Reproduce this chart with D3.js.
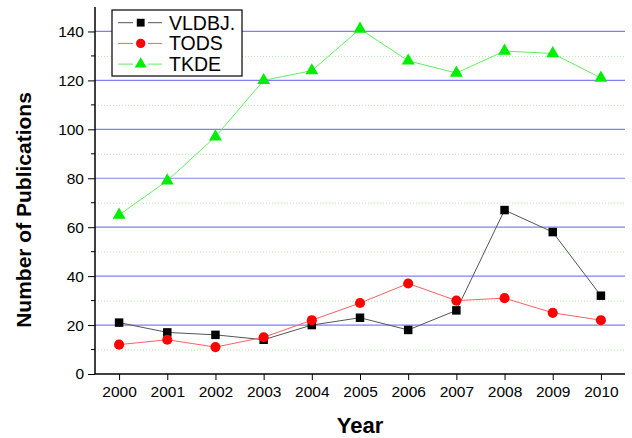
<!DOCTYPE html>
<html lang="en">
<head>
<meta charset="UTF-8">
<title>Number of Publications</title>
<script src="https://cdn.jsdelivr.net/npm/d3@7"></script>
<style>
  body { margin: 0; background: #fff; }
  svg { font-family: "Liberation Sans", Arial, sans-serif; }
</style>
</head>
<body>
<script>
// data
var years = [2000, 2001, 2002, 2003, 2004, 2005, 2006, 2007, 2008, 2009, 2010];
var vldbj = [21, 17, 16, 14, 20, 23, 18, 26, 67, 58, 32];
var tods  = [12, 14, 11, 15, 22, 29, 37, 30, 31, 25, 22];
var tkde  = [65, 79, 97, 120, 124, 141, 128, 123, 132, 131, 121];
var seriesNames = ["VLDBJ.", "TODS", "TKDE"];
var yTicks = [0, 20, 40, 60, 80, 100, 120, 140];

var W = 632, H = 438;
var pLeft = 95, pRight = 625, pTop = 7, pBottom = 374;

var svg = d3.select("body").append("svg")
  .attr("width", W)
  .attr("height", H);

var x = d3.scaleLinear().domain([1999.5, 2010.5]).range([pLeft, pRight]);
var y = d3.scaleLinear().domain([0, 150]).range([pBottom, pTop]);

// minor grid (dotted green) at odd tens
svg.selectAll(".minor")
  .data(d3.range(10, 150, 20))
  .enter().append("line")
  .attr("x1", pLeft).attr("x2", pRight)
  .attr("y1", function(d){ return y(d) + 0.5 })
  .attr("y2", function(d){ return y(d) + 0.5 })
  .attr("stroke", "#b8ecb0")
  .attr("stroke-dasharray", "1,2")

// major grid (blue)
svg.selectAll(".major")
  .data(yTicks.slice(1))
  .enter().append("line")
  .attr("x1", pLeft).attr("x2", pRight)
  .attr("y1", function(d){ return y(d) })
  .attr("y2", function(d){ return y(d) })
  .attr("stroke", "#8080f0")
  .attr("stroke-width", 1.2)

// y axis
var yAxis = svg.append("g")
  .attr("transform", "translate(" + pLeft + ",0)")
  .call(d3.axisLeft(y).tickValues(yTicks).tickSize(7).tickPadding(4))
yAxis.select(".domain").attr("d", "M0," + pTop + "V" + pBottom).attr("stroke-width", 1.5)
yAxis.selectAll("text").style("font-size", "15.5px").attr("fill", "#000")
// minor y ticks
yAxis.selectAll(".mt")
  .data(d3.range(10, 150, 20))
  .enter().append("line")
  .attr("x1", -4).attr("x2", 0)
  .attr("y1", function(d){ return y(d) })
  .attr("y2", function(d){ return y(d) })
  .attr("stroke", "#000")

// x axis
var xAxis = svg.append("g")
  .attr("transform", "translate(0," + pBottom + ")")
  .call(d3.axisBottom(x).tickValues(years).tickFormat(d3.format("d")).tickSize(6).tickPadding(6))
xAxis.select(".domain").attr("d", "M" + pLeft + ",0H" + pRight).attr("stroke-width", 1.5)
xAxis.selectAll("text").style("font-size", "15.5px").attr("fill", "#000")

// axis titles
svg.append("text")
  .attr("transform", "translate(31,210) rotate(-90)")
  .attr("text-anchor", "middle")
  .style("font-size", "21px")
  .style("font-weight", "bold")
  .text("Number of Publications")

svg.append("text")
  .attr("x", 360).attr("y", 433)
  .attr("text-anchor", "middle")
  .style("font-size", "22px")
  .style("font-weight", "bold")
  .text("Year")

var series = [
  { name: seriesNames[0], values: vldbj, line: "#555", fill: "#000", shape: d3.symbolSquare, size: 72 },
  { name: seriesNames[1], values: tods, line: "#ff6060", fill: "#ff0000", shape: d3.symbolCircle, size: 80 },
  { name: seriesNames[2], values: tkde, line: "#60f060", fill: "#00ee00", shape: d3.symbolTriangle, size: 72 }
]

var line = d3.line()
  .x(function(d, i){ return x(years[i]) })
  .y(function(d){ return y(d) })

series.forEach(function(s) {
  svg.append("path")
    .attr("d", line(s.values))
    .attr("fill", "none")
    .attr("stroke", s.line)
    .attr("stroke-width", 1)

  svg.selectAll(null)
    .data(s.values)
    .enter().append("path")
    .attr("d", d3.symbol().type(s.shape).size(s.size))
    .attr("transform", function(d, i){ return "translate(" + x(years[i]) + "," + y(d) + ")" })
    .attr("fill", s.fill)
})

// legend
var lg = svg.append("g").attr("transform", "translate(112,10)")
lg.append("rect")
  .attr("width", 130).attr("height", 66)
  .attr("fill", "#fff").attr("stroke", "#000").attr("stroke-width", 1.2)

series.forEach(function(s, i) {
  var cy = 12.7 + i * 20.7
  lg.append("line").attr("x1", 6).attr("x2", 21).attr("y1", cy).attr("y2", cy).attr("stroke", s.line)
  lg.append("line").attr("x1", 36).attr("x2", 50).attr("y1", cy).attr("y2", cy).attr("stroke", s.line)
  lg.append("path")
    .attr("d", d3.symbol().type(s.shape).size(s.size * 0.85))
    .attr("transform", "translate(28.7," + cy + ")")
    .attr("fill", s.fill)
  lg.append("text")
    .attr("x", 57).attr("y", cy + 7)
    .style("font-size", "19.5px")
    .text(s.name)
})
</script>
</body>
</html>
